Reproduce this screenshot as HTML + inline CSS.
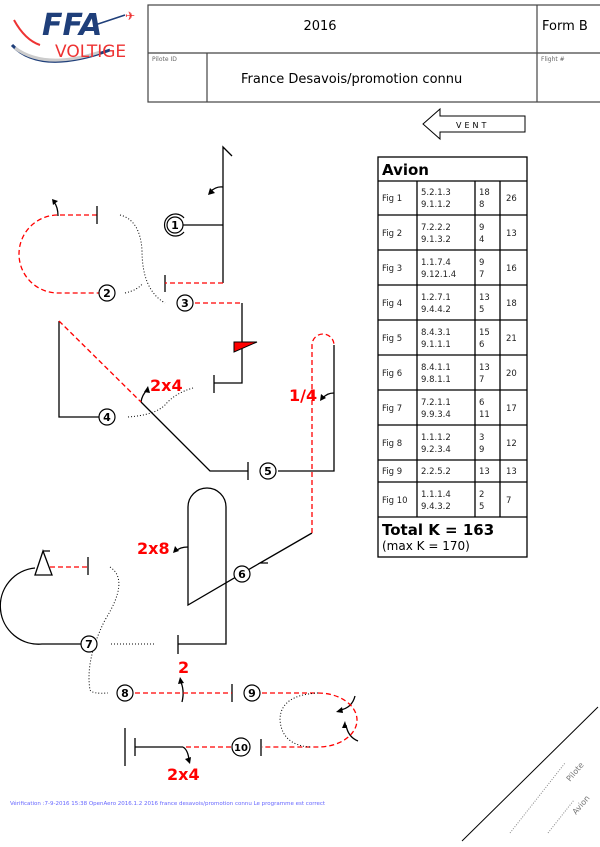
<!DOCTYPE html>
<html><head><meta charset="utf-8"><style>
body{margin:0;background:#fff;width:600px;height:847px;overflow:hidden}
svg{display:block}
text{font-family:"DejaVu Sans","Liberation Sans",sans-serif}
</style></head><body>
<svg width="600" height="847" viewBox="0 0 600 847" xmlns="http://www.w3.org/2000/svg">
<!-- logo -->
<path d="M12 45 Q40 75 110 50" stroke="#1f3f7a" stroke-width="3" fill="none"/>
<path d="M15 48 Q45 70 100 52" stroke="#ccc" stroke-width="3" fill="none"/>
<path d="M14 20 Q25 40 40 45" stroke="#e33" stroke-width="2" fill="none"/>
<text x="42" y="35" font-size="30" font-weight="bold" font-style="italic" fill="#1f3f7a" font-family="Liberation Sans">FFA</text>
<line x1="95" y1="25" x2="125" y2="15" stroke="#1f3f7a" stroke-width="1.5"/>
<text x="125" y="20" font-size="12" fill="#e33">✈</text>
<text x="55" y="57" font-size="17" fill="#e33" font-family="Liberation Sans">VOLTIGE</text>
<!-- header -->
<g stroke="#444" stroke-width="1.2" fill="none">
<rect x="148" y="5" width="460" height="97"/>
<line x1="148" y1="53" x2="600" y2="53"/>
<line x1="537" y1="5" x2="537" y2="102"/>
<line x1="207" y1="53" x2="207" y2="102"/>
</g>
<text x="320" y="30" font-size="13" text-anchor="middle">2016</text>
<text x="542" y="30" font-size="13">Form B</text>
<text x="241" y="83" font-size="13">France Desavois/promotion connu</text>
<text x="152" y="61" font-size="6" fill="#666">Pilote ID</text>
<text x="541" y="61" font-size="6" fill="#666">Flight #</text>
<!-- wind -->
<path d="M423 124 L440 109 L440 116 L525 116 L525 132 L440 132 L440 139 Z" fill="#fff" stroke="#000"/>
<text x="456" y="128" font-size="8" letter-spacing="3">VENT</text>
<!-- table -->
<g stroke="#000" stroke-width="1.3" fill="none">
<rect x="378" y="157" width="149" height="400"/>
<line x1="378" y1="181" x2="527" y2="181"/>
<line x1="378" y1="517" x2="527" y2="517"/>
<line x1="417" y1="181" x2="417" y2="517"/>
<line x1="475" y1="181" x2="475" y2="517"/>
<line x1="500" y1="181" x2="500" y2="517"/>
<line x1="378" y1="215" x2="527" y2="215"/><line x1="378" y1="250" x2="527" y2="250"/>
<line x1="378" y1="285" x2="527" y2="285"/><line x1="378" y1="320" x2="527" y2="320"/>
<line x1="378" y1="355" x2="527" y2="355"/><line x1="378" y1="390" x2="527" y2="390"/>
<line x1="378" y1="425" x2="527" y2="425"/><line x1="378" y1="460" x2="527" y2="460"/>
<line x1="378" y1="482" x2="527" y2="482"/>
</g>
<text x="382" y="175" font-size="15" font-weight="bold">Avion</text>
<g font-size="8.5" fill="#222">
<text x="382" y="201">Fig 1</text><text x="421" y="195">5.2.1.3</text><text x="421" y="207">9.1.1.2</text><text x="479" y="195">18</text><text x="479" y="207">8</text><text x="506" y="201">26</text>
<text x="382" y="236">Fig 2</text><text x="421" y="230">7.2.2.2</text><text x="421" y="242">9.1.3.2</text><text x="479" y="230">9</text><text x="479" y="242">4</text><text x="506" y="236">13</text>
<text x="382" y="271">Fig 3</text><text x="421" y="265">1.1.7.4</text><text x="421" y="277">9.12.1.4</text><text x="479" y="265">9</text><text x="479" y="277">7</text><text x="506" y="271">16</text>
<text x="382" y="306">Fig 4</text><text x="421" y="300">1.2.7.1</text><text x="421" y="312">9.4.4.2</text><text x="479" y="300">13</text><text x="479" y="312">5</text><text x="506" y="306">18</text>
<text x="382" y="341">Fig 5</text><text x="421" y="335">8.4.3.1</text><text x="421" y="347">9.1.1.1</text><text x="479" y="335">15</text><text x="479" y="347">6</text><text x="506" y="341">21</text>
<text x="382" y="376">Fig 6</text><text x="421" y="370">8.4.1.1</text><text x="421" y="382">9.8.1.1</text><text x="479" y="370">13</text><text x="479" y="382">7</text><text x="506" y="376">20</text>
<text x="382" y="411">Fig 7</text><text x="421" y="405">7.2.1.1</text><text x="421" y="417">9.9.3.4</text><text x="479" y="405">6</text><text x="479" y="417">11</text><text x="506" y="411">17</text>
<text x="382" y="446">Fig 8</text><text x="421" y="440">1.1.1.2</text><text x="421" y="452">9.2.3.4</text><text x="479" y="440">3</text><text x="479" y="452">9</text><text x="506" y="446">12</text>
<text x="382" y="474">Fig 9</text><text x="421" y="474">2.2.5.2</text><text x="479" y="474">13</text><text x="506" y="474">13</text>
<text x="382" y="503">Fig 10</text><text x="421" y="497">1.1.1.4</text><text x="421" y="509">9.4.3.2</text><text x="479" y="497">2</text><text x="479" y="509">5</text><text x="506" y="503">7</text>
</g>
<text x="382" y="535" font-size="15" font-weight="bold">Total K = 163</text>
<text x="382" y="550" font-size="12">(max K = 170)</text>

<!-- figures -->
<g fill="none" stroke-width="1.3">
<g stroke="#000">
<!-- fig1 -->
<path d="M223 283 V147 L232 156"/><line x1="183" y1="225" x2="223" y2="225"/>
<path d="M223 187 Q216 186 210 192"/>
<line x1="165" y1="275" x2="165" y2="292"/>
<!-- fig3 -->
<path d="M242 303 V383 H214"/><line x1="214" y1="375" x2="214" y2="393"/>
<!-- fig4/5 -->
<path d="M59 321 V417 H100"/>
<path d="M141 402 L210 471 H248"/><line x1="248" y1="462" x2="248" y2="480"/>
<path d="M278 471 H334 V345"/>
<path d="M141 402 Q142 395 147 390"/>
<path d="M334 393 Q327 393 323 398"/>
<!-- fig6 -->
<path d="M312 533 L260 563 H268"/>
<path d="M260 563 L188 605 V507 A19 19 0 0 1 226 507 V644 H178"/>
<line x1="178" y1="635" x2="178" y2="654"/>
<path d="M188 547 Q180 547 176 551"/>
<!-- fig7 -->
<path d="M35 568 A38 38 0 0 0 42 644 H82"/>
<path d="M35 575 H52 L43 551 Z M43 551 H50"/>
<line x1="88" y1="557" x2="88" y2="575"/>
<!-- fig8 -->
<line x1="232" y1="684" x2="232" y2="702"/>
<path d="M182 702 Q185 690 180 680"/>
<!-- fig9/10 -->
<line x1="261" y1="739" x2="261" y2="756"/>
<path d="M183 747 H135"/><line x1="135" y1="738" x2="135" y2="756"/><line x1="125" y1="728" x2="125" y2="766"/>
<path d="M183 747 Q188 750 189 760"/>
<path d="M355 696 Q352 708 340 710"/><path d="M358 741 Q348 737 346 725"/>
</g>
<g stroke="red" stroke-dasharray="5,3">
<line x1="223" y1="283" x2="165" y2="283"/>
<path d="M97 215 H58 A39 39 0 0 0 58 293 H100"/>
<path d="M195 303 H242"/>
<line x1="59" y1="321" x2="141" y2="402"/>
<path d="M312 533 V345 A11 11 0 0 1 334 345"/>
<line x1="50" y1="567" x2="88" y2="567"/>
<line x1="135" y1="693" x2="232" y2="693"/>
<path d="M262 693 H318 A39 27 0 0 1 318 747 H262"/>
<line x1="231" y1="747" x2="183" y2="747"/>
</g>
<g stroke="#000" stroke-dasharray="1,2" stroke-width="1">
<path d="M120 215 Q140 220 142 250 Q142 290 165 303"/>
<path d="M125 293 Q138 290 143 283"/>
<path d="M128 417 Q155 415 165 405 Q175 393 193 388"/>
<path d="M110 567 Q130 580 105 620 Q85 660 90 690 Q92 694 108 693"/>
<line x1="111" y1="644" x2="155" y2="644"/>
<path d="M318 693 Q280 695 280 720 Q282 745 310 747"/>
</g>
</g>
<line x1="97" y1="206" x2="97" y2="224" stroke="#000" stroke-width="1.3"/>
<path d="M58 216 Q58 207 54 202" stroke="#000" fill="none" stroke-width="1.3"/>
<g fill="#000">
<path d="M208 195 l2 -7 5 5z"/><path d="M52 199 l6 2 -5 4z"/>
<path d="M148 386 l2 7 -6 -1z"/><path d="M320 401 l1 -7 5 4z"/>
<path d="M173 553 l2 -7 4 5z"/><path d="M180 677 l4 6 -6 1z"/>
<path d="M190 764 l-5 -5 6 -2z"/><path d="M336 712 l6 -5 1 6z"/><path d="M345 721 l-3 7 5 0z"/>
</g>
<path d="M234 342 H257 L234 352 Z" fill="red" stroke="#000"/>
<!-- circles -->
<g fill="#fff" stroke="#000" stroke-width="1.2">
<path d="M184 218 A11 11 0 1 0 184 232" fill="none"/>
<circle cx="175" cy="225" r="8"/>
<circle cx="107" cy="293" r="8"/><circle cx="185" cy="303" r="8"/>
<circle cx="107" cy="417" r="8"/><circle cx="268" cy="471" r="8"/>
<circle cx="242" cy="574" r="8"/><circle cx="89" cy="644" r="8"/>
<circle cx="125" cy="693" r="8"/><circle cx="252" cy="693" r="8"/><circle cx="241" cy="747" r="9"/>
</g>
<g font-size="11" font-weight="bold" text-anchor="middle" font-family="DejaVu Serif">
<text x="175" y="229">1</text><text x="107" y="297">2</text><text x="185" y="307">3</text>
<text x="107" y="421">4</text><text x="268" y="475">5</text><text x="242" y="578">6</text>
<text x="89" y="648">7</text><text x="125" y="697">8</text><text x="252" y="697">9</text><text x="241" y="751" font-size="10">10</text>
</g>
<g fill="red" font-size="16" font-weight="bold" font-family="Liberation Sans">
<text x="150" y="391">2x4</text><text x="289" y="401">1/4</text><text x="137" y="554">2x8</text>
<text x="178" y="673">2</text><text x="167" y="780">2x4</text>
</g>
<text x="10" y="805" font-size="5.5" fill="#66f" font-family="DejaVu Sans Mono">Vérification :7-9-2016 15:38 OpenAero 2016.1.2 2016 france desavois/promotion connu Le programme est correct</text>
<line x1="462" y1="841" x2="598" y2="707" stroke="#000"/>
<line x1="510" y1="833" x2="565" y2="763" stroke="#888" stroke-dasharray="1,1.5"/>
<line x1="548" y1="833" x2="574" y2="800" stroke="#888" stroke-dasharray="1,1.5"/>
<text x="570" y="782" font-size="8" fill="#777" transform="rotate(-50 570 782)">Pilote</text>
<text x="576" y="815" font-size="8" fill="#777" transform="rotate(-50 576 815)">Avion</text>
</svg>
</body></html>
